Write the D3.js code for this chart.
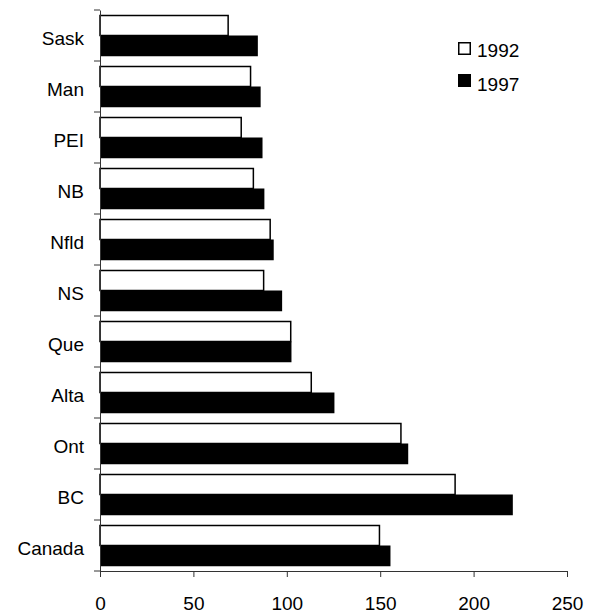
<!DOCTYPE html>
<html>
<head>
<meta charset="utf-8">
<script src="https://cdn.jsdelivr.net/npm/d3@7"></script>
<style>
  html, body { margin: 0; padding: 0; background: #fff; }
  svg { display: block; }
  text { font-family: "Liberation Sans", Arial, sans-serif; fill: #000; }
</style>
</head>
<body>
<script>
// Provinces listed top to bottom, with one value per year
const categories = ["Sask", "Man", "PEI", "NB", "Nfld", "NS", "Que", "Alta", "Ont", "BC", "Canada"];
const years = ["1992", "1997"];
const values1992 = [69, 81, 76, 82.5, 91.5, 88, 102.5, 113.5, 161.5, 190.5, 150];
const values1997 = [84.5, 86, 87, 88, 93, 97.5, 102.5, 125.5, 165, 221, 155.5];
const xTicks = [0, 50, 100, 150, 200, 250];

const W = 594, H = 614;
const plotLeft = 100, plotRight = 567, plotTop = 10, plotBottom = 571;

const svg = d3.select("body").append("svg")
  .attr("width", W).attr("height", H);

const x = d3.scaleLinear().domain([0, 250]).range([plotLeft, plotRight]);
const y = d3.scaleBand().domain(categories).range([plotTop, plotBottom]).padding(0);
const sub = d3.scaleBand().domain(years).range([0, y.bandwidth()])
  .paddingInner(0).paddingOuter(0.229);

const rows = categories.map((c, i) => ({ cat: c, v: [values1992[i], values1997[i]] }));

// bars: outlined white for 1992, solid black for 1997
const g = svg.append("g");
rows.forEach(r => {
  years.forEach((yr, j) => {
    const isOld = j === 0;
    g.append("rect")
      .attr("x", x(0))
      .attr("y", y(r.cat) + sub(yr) + (isOld ? 0.75 : 0))
      .attr("width", x(r.v[j]) - x(0) - (isOld ? 0.75 : 0))
      .attr("height", sub.bandwidth() - (isOld ? 0.75 : 0))
      .attr("fill", isOld ? "#fff" : "#000")
      .attr("stroke", isOld ? "#000" : "none")
      .attr("stroke-width", 1.5);
  });
});

// x axis
const xAxis = svg.append("g")
  .attr("transform", `translate(0,${plotBottom})`)
  .call(d3.axisBottom(x).tickValues(xTicks).tickSize(6).tickSizeOuter(0).tickPadding(23));
xAxis.selectAll("text").style("font-size", "19px").attr("dy", 0)
  .attr("dominant-baseline", "auto").attr("y", 39);
xAxis.selectAll("line, path").attr("stroke", "#333");

// y axis: category labels centred on bands
const yAxis = svg.append("g")
  .attr("transform", `translate(${plotLeft},0)`)
  .call(d3.axisLeft(y).tickSize(0).tickPadding(16));
yAxis.selectAll("text").style("font-size", "19px").attr("dy", "0.5em");
yAxis.select(".domain").attr("stroke", "#333");

// tick marks at band boundaries
const bounds = categories.map(c => y(c)).concat([y.range()[1]]);
svg.append("g").selectAll("line").data(bounds).join("line")
  .attr("x1", plotLeft - 6).attr("x2", plotLeft)
  .attr("y1", d => d).attr("y2", d => d)
  .attr("stroke", "#333").attr("stroke-width", 1);

// legend
const legend = svg.append("g");
years.forEach((yr, j) => {
  const ly = 42 + j * 32;
  const isOld = j === 0;
  legend.append("rect")
    .attr("x", isOld ? 458.75 : 458).attr("y", isOld ? ly + 0.75 : ly)
    .attr("width", isOld ? 11.5 : 13).attr("height", isOld ? 11.5 : 13)
    .attr("fill", isOld ? "#fff" : "#000")
    .attr("stroke", isOld ? "#000" : "none")
    .attr("stroke-width", 1.5);
  legend.append("text")
    .attr("x", 477).attr("y", ly + 15 + j * 2)
    .style("font-size", "19px")
    .text(yr);
});
</script>
</body>
</html>
